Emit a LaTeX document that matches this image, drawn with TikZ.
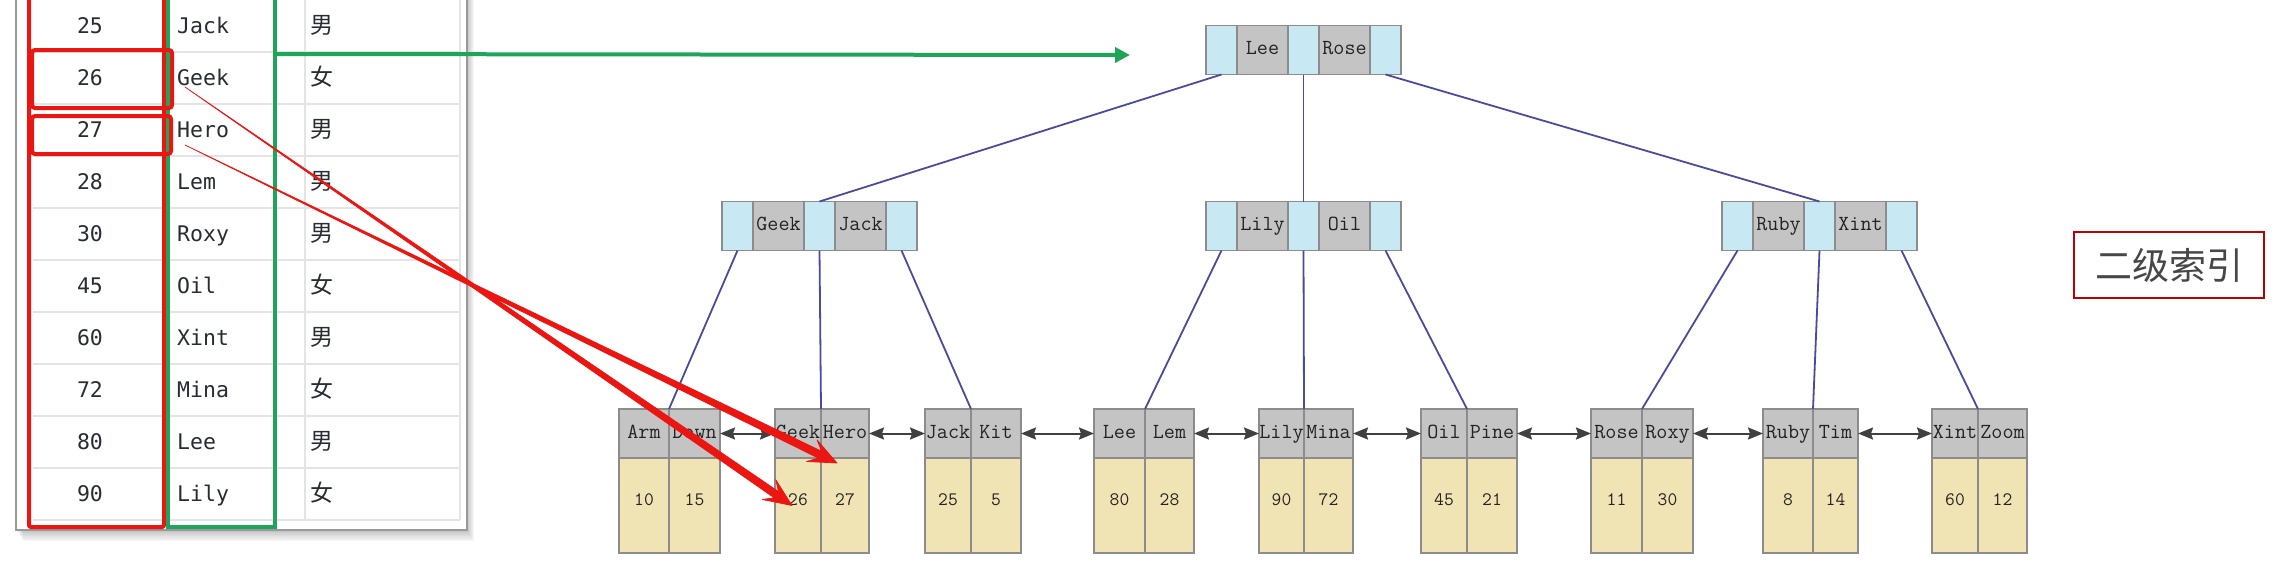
\documentclass[tikz,border=0pt]{standalone}
\usepackage{fontspec}
\usetikzlibrary{positioning,arrows.meta,calc}
\newfontfamily\tablefont{DejaVu Sans Mono}
\newfontfamily\cjkfont{Noto Sans CJK SC}

\definecolor{ptrblue}{RGB}{200,233,243}
\definecolor{keygray}{RGB}{196,196,196}
\definecolor{cellline}{RGB}{140,140,140}
\definecolor{valyellow}{RGB}{241,228,180}
\definecolor{keytext}{RGB}{35,35,35}
\definecolor{treeblue}{RGB}{75,75,155}
\definecolor{linkgray}{RGB}{64,64,64}
\definecolor{hlred}{RGB}{235,22,18}
\definecolor{hlgreen}{RGB}{30,165,90}
\definecolor{tagred}{RGB}{192,0,0}
\definecolor{rowgray}{RGB}{228,228,228}
\definecolor{tabletext}{RGB}{40,44,52}

\tikzset{
  ptrcell/.style={draw=cellline, line width=1.5pt, fill=ptrblue,
    minimum width=31pt, minimum height=49pt, inner sep=0pt, outer sep=0pt},
  keycell/.style={draw=cellline, line width=1.5pt, fill=keygray,
    minimum height=49pt, inner sep=0pt, outer sep=0pt, text=keytext,
    font=\ttfamily\fontsize{21.5}{22}\selectfont, text height=13pt, text depth=4pt},
  rowkey/.style={keycell, minimum width=51pt},
  valcell/.style={draw=cellline, line width=1.5pt, fill=valyellow,
    minimum height=95pt, inner sep=0pt, outer sep=0pt, text=keytext,
    font=\ttfamily\fontsize{19}{20}\selectfont, text height=10pt, text depth=10pt},
  treeline/.style={draw=treeblue, line width=1.8pt},
  leaflink/.style={draw=linkgray, line width=2pt,
    {Stealth[length=15pt,width=12pt,inset=2pt]}-{Stealth[length=15pt,width=12pt,inset=2pt]}},
  rowline/.style={draw=rowgray, line width=1.5pt},
  tabcell/.style={inner sep=0pt, text=tabletext,
    font=\tablefont\fontsize{21.5}{22}\selectfont, text height=15.6pt, text depth=0pt},
  sexcell/.style={inner sep=0pt, text=tabletext,
    font=\cjkfont\fontsize{23}{24}\selectfont, text height=18pt, text depth=3pt},
}

\begin{document}
\begin{tikzpicture}[x=1pt,y=-1pt]
  \useasboundingbox (0,0) rectangle (2281,568);

  % table panel with its shadow
  \foreach \s in {1,...,7}
    \fill[black,opacity=0.035] (16+\s,-6) rectangle (467+\s,530+1.6*\s);
  \filldraw[fill=white,draw=gray!80,line width=2pt] (16,-6) rectangle (467,530);
  \draw[rowline] (165,-6) -- (165,520);
  \draw[rowline] (305,-6) -- (305,520);
  \draw[rowline] (460,-6) -- (460,520);

  \foreach \id/\nm/\sx [count=\k] in {25/Jack/男, 26/Geek/女, 27/Hero/男,
      28/Lem/男, 30/Roxy/男, 45/Oil/女, 60/Xint/男, 72/Mina/女, 80/Lee/男, 90/Lily/女} {
    \draw[rowline] (33,52*\k) -- (460,52*\k);
    \node[tabcell] (id\k) at (90,52*\k-26) {\id};
    \node[tabcell,anchor=west] (nm\k) at (177,52*\k-26) {\nm};
    \node[sexcell] (sx\k) at (322,52*\k-26) {\sx};
  }

  % highlight boxes
  \draw[hlred,line width=4pt,rounded corners=2pt] (29,-8) rectangle (164,527);
  \draw[hlgreen,line width=3.5pt] (168,-8) rectangle (275,527);
  \draw[hlred,line width=4pt,rounded corners=3pt] (32,50) rectangle (172,108);
  \draw[hlred,line width=4pt,rounded corners=3pt] (32,116) rectangle (171,154);

  % inner nodes of the tree
  \foreach \n/\xl/\yc/\ka/\kb in {r/1206/50/Lee/Rose, a/722/226/Geek/Jack,
      b/1206/226/Lily/Oil, c/1722/226/Ruby/Xint} {
    \node[ptrcell] (\n0) at (\xl+15.5,\yc) {};
    \node[rowkey,right=0pt of \n0] (\n1) {\ka};
    \node[ptrcell,right=0pt of \n1] (\n2) {};
    \node[rowkey,right=0pt of \n2] (\n3) {\kb};
    \node[ptrcell,right=0pt of \n3] (\n4) {};
  }

  % leaves
  \foreach \i/\xl/\wa/\wb/\ka/\kb/\na/\nb in {1/619/50/51/Arm/Down/10/15,
      2/775/46/48/Geek/Hero/26/27, 3/925/46/50/Jack/Kit/25/5,
      4/1094/51/49/Lee/Lem/80/28, 5/1259/45/49/Lily/Mina/90/72,
      6/1421/46/50/Oil/Pine/45/21, 7/1591/51/51/Rose/Roxy/11/30,
      8/1763/50/45/Ruby/Tim/8/14, 9/1932/46/49/Xint/Zoom/60/12} {
    \node[keycell,minimum width=\wa pt] (la\i) at (\xl+\wa/2,433.5) {\ka};
    \node[keycell,minimum width=\wb pt,right=0pt of la\i] (lb\i) {\kb};
    \node[valcell,minimum width=\wa pt,below=0pt of la\i] (va\i) {\na};
    \node[valcell,minimum width=\wb pt,below=0pt of lb\i] (vb\i) {\nb};
  }

  \foreach \p/\c in {r0/a2, r2/b2, r4/c2}
    \draw[treeline] (\p.south) -- (\c.north);
  \foreach \p/\i in {a0/1, a2/2, a4/3, b0/4, b2/5, b4/6, c0/7, c2/8, c4/9}
    \draw[treeline] (\p.south) -- (la\i.north east);
  \foreach \i [count=\j from 2] in {1,...,8}
    \draw[leaflink] (lb\i.east) -- (la\j.west);

  \node[draw=tagred,line width=2.5pt,minimum width=190pt,minimum height=66pt,
    text=black!72,font=\cjkfont\fontsize{37}{40}\selectfont] (tag) at (2169,265) {二级索引};

  % green pointer to the root
  \coordinate (gfrom) at (275,54);
  \coordinate (gtip) at (1130,55);
  \draw[hlgreen,line width=4pt,-{Triangle[length=15pt,width=15pt]}] (gfrom) -- (gtip);

  % red pointers from the names to the leaf
  \coordinate (geekfrom) at ($(nm2.west)+(8,9)$);
  \coordinate (herofrom) at ($(nm3.west)+(8,15)$);
  \coordinate (t26) at ($(va2.center)+(-6,0)$);
  \coordinate (t27) at ($(vb2.north)+(-8,5)$);
  \foreach \s/\t in {geekfrom/t26, herofrom/t27} {
    \coordinate (bk) at ($(\t)!19pt!(\s)$);
    \coordinate (bb) at ($(\t)!28pt!(\s)$);
    \filldraw[hlred,line width=0.7pt,line join=round]
      (\s) -- ($(bk)!3.8pt!90:(\t)$) -- ($(bb)!12pt!90:(\t)$) -- (\t)
      -- ($(bb)!12pt!-90:(\t)$) -- ($(bk)!3.8pt!-90:(\t)$) -- cycle;
  }
\end{tikzpicture}
\end{document}
